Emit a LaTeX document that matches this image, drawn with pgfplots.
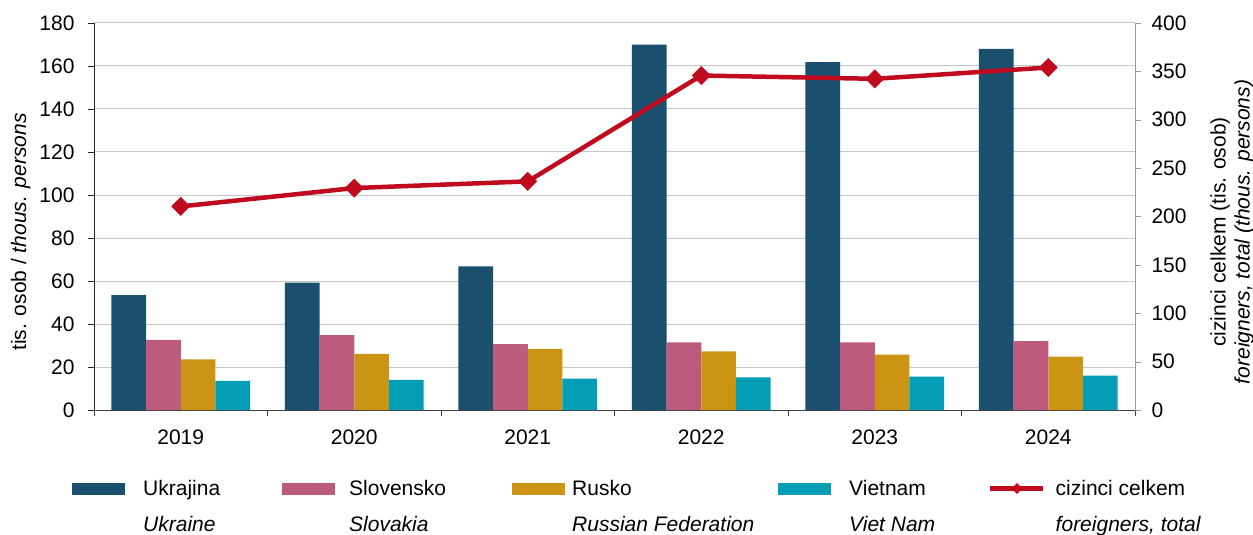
\documentclass[border=0pt]{standalone}
\usepackage{pgfplots}
\pgfplotsset{compat=1.18}
\usepackage{fontspec}
\setmainfont{Liberation Sans}
\definecolor{cUA}{HTML}{1A4F6E}
\definecolor{cSK}{HTML}{BC5B7E}
\definecolor{cRU}{HTML}{CB9513}
\definecolor{cVN}{HTML}{039DB5}
\definecolor{cTot}{HTML}{C00A1E}
\newcommand{\fs}{\fontsize{21}{24}\selectfont}
\begin{document}
\begin{tikzpicture}
\pgfplotsset{
  base/.style={width=1041pt,height=387pt,scale only axis,xmin=-0.5,xmax=5.5,
    enlargelimits=false,
    /pgf/number format/assume math mode=true,
    tick label style={font=\fs}, label style={font=\fs},
    tick align=outside, major tick length=6pt, minor tick length=6pt,
    axis line style={-}},
  barleg/.style={legend image code/.code={\fill[##1, draw=none] (0pt,-6pt) rectangle (53pt,6pt);}},
  totleg/.style={legend image code/.code={\draw[##1] (0pt,0pt) -- (53pt,0pt); \draw[##1, mark size=3.5pt] plot coordinates {(26.5pt,0pt)};}},
}
\begin{axis}[base, ymin=0, ymax=180, ytick={0,20,...,180},
  axis y line*=left, axis x line*=bottom,
  ybar=0pt, bar width=0.2,
  xtick={0,...,5}, xticklabels={2019,2020,2021,2022,2023,2024},
  minor xtick={-0.5,0.5,...,5.5},
  major x tick style={draw=none},
  minor x tick style={black!75},
  ytick style={black!85},
  xticklabel style={yshift=-10pt},
  yticklabel style={xshift=-10pt},
  ymajorgrids, major grid style={draw=black!22, line width=1pt},
  x axis line style={black!75}, y axis line style={black!85},
  ylabel={tis. osob / \textit{thous. persons}},
  ylabel style={at={(ticklabel cs:0.46)}},
  ylabel shift=2pt,
]
\addplot[fill=cUA, draw=none] coordinates {(0,53.4) (1,59.3) (2,66.8) (3,169.9) (4,161.8) (5,168.0)};
\addplot[fill=cSK, draw=none] coordinates {(0,32.6) (1,34.8) (2,30.7) (3,31.5) (4,31.4) (5,32.0)};
\addplot[fill=cRU, draw=none] coordinates {(0,23.6) (1,26.1) (2,28.4) (3,27.3) (4,25.8) (5,24.8)};
\addplot[fill=cVN, draw=none] coordinates {(0,13.5) (1,14.0) (2,14.6) (3,15.2) (4,15.5) (5,16.0)};
\coordinate (SW) at (rel axis cs:0,0);
\coordinate (NE) at (rel axis cs:1,1);
\end{axis}
\begin{axis}[base, ymin=0, ymax=400, ytick={0,50,...,400},
  axis y line*=right, axis x line=none,
  y axis line style={black!40}, ytick style={black!40},
  yticklabel style={xshift=7pt},
  ylabel={cizinci celkem (tis. osob)\\\textit{foreigners, total (thous. persons)}},
  ylabel style={align=center, at={(ticklabel cs:0.46)}},
  ylabel shift=17pt,
  legend columns=5,
  legend cell align=left,
  legend style={draw=none, fill=none, inner sep=0pt, at={(rel axis cs:0,0)}, anchor=north west,
    xshift=-22pt, yshift=-70pt, column sep=0pt, row sep=19pt, font=\fs, nodes={inner sep=0pt}},
]
\addlegendimage{barleg, fill=cUA}
\addlegendentry{\makebox[157pt][l]{\hspace{18pt}Ukrajina}}
\addlegendimage{barleg, fill=cSK}
\addlegendentry{\makebox[177pt][l]{\hspace{14pt}Slovensko}}
\addlegendimage{barleg, fill=cRU}
\addlegendentry{\makebox[213pt][l]{\hspace{7pt}Rusko}}
\addlegendimage{barleg, fill=cVN}
\addlegendentry{\makebox[157pt][l]{\hspace{18pt}Vietnam}}
\addplot[totleg, cTot, line width=4.5pt, mark=square*, mark size=6.4pt,
  mark options={rotate=45, line width=0.6pt, fill=cTot}]
  coordinates {(0,210.4) (1,229.4) (2,236.3) (3,345.7) (4,342.3) (5,354.0)};
\addlegendentry{\makebox[160pt][l]{\hspace{10pt}cizinci celkem}}
\addlegendimage{empty legend}
\addlegendentry{\makebox[157pt][l]{\hspace{18pt}\textit{Ukraine}}}
\addlegendimage{empty legend}
\addlegendentry{\makebox[177pt][l]{\hspace{14pt}\textit{Slovakia}}}
\addlegendimage{empty legend}
\addlegendentry{\makebox[213pt][l]{\hspace{7pt}\textit{Russian Federation}}}
\addlegendimage{empty legend}
\addlegendentry{\makebox[157pt][l]{\hspace{18pt}\textit{Viet Nam}}}
\addlegendimage{empty legend}
\addlegendentry{\makebox[160pt][l]{\hspace{10pt}\textit{foreigners, total}}}
\end{axis}
\pgfresetboundingbox
\path ([xshift=-94pt,yshift=-124pt]SW) rectangle ([xshift=118pt,yshift=23pt]NE);
\end{tikzpicture}
\end{document}
